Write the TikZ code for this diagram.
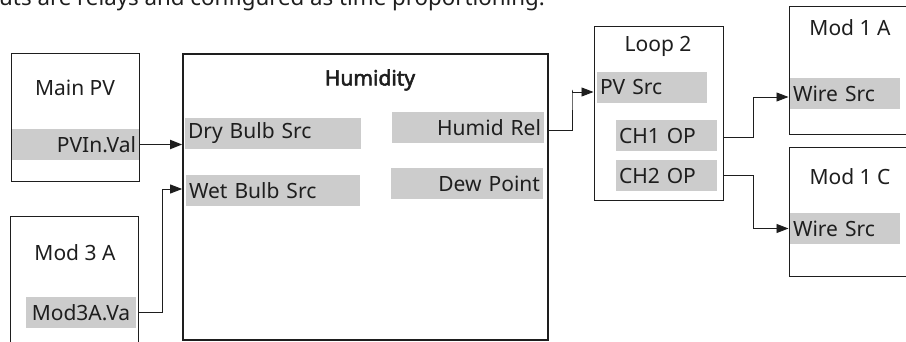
\documentclass[tikz,border=0pt]{standalone}
\usepackage{fontspec}
\setmainfont{Noto Sans}
\newfontfamily\boldfam{Noto Sans}[FakeBold=2.5]
\usetikzlibrary{arrows.meta,calc}
\definecolor{gband}{RGB}{204,204,204}
\definecolor{ink}{RGB}{30,30,30}
\tikzset{
  blk/.style={draw=ink,line width=1pt,inner sep=0pt},
  band/.style={fill=gband,inner xsep=3pt,inner ysep=0pt,minimum height=31pt,text=ink},
  lbl/.style={text=ink,inner sep=0pt},
  conn/.style={draw=ink,line width=0.9pt,-{Triangle[length=12pt,width=9pt]}},
}
\begin{document}
\begin{tikzpicture}[x=1pt,y=-1pt,font=\fontsize{21}{24}\selectfont]
\useasboundingbox (0,0) rectangle (906,342);
\clip (0,0) rectangle (906,342);
% top sentence (cut)
\node[lbl,anchor=base west,font=\fontsize{22.3}{26}\selectfont] (top) at (-1,5.5) {uts are relays and configured as time proportioning.};
% blocks
\node[blk,minimum width=128pt,minimum height=128pt] (mpv) at (75,118) {};
\node[blk,line width=1.7pt,minimum width=365pt,minimum height=286pt] (hum) at (365.5,197) {};
\node[blk,minimum width=128pt,minimum height=130pt] (m3) at (74,282) {};
\node[blk,minimum width=129pt,minimum height=174pt] (loop) at (658.5,114) {};
\node[blk,minimum width=121pt,minimum height=128pt] (m1a) at (849.5,71) {};
\node[blk,minimum width=121pt,minimum height=128pt] (m1c) at (849.5,212) {};
% titles
\node[lbl] (tmpv) at (75,88) {Main PV};
\node[lbl,font=\fontsize{21}{24}\boldfam] (thum) at (370,80) {Humidity};
\node[lbl] (tm3) at (75,253) {Mod 3 A};
\node[lbl] (tloop) at (658,46) {Loop 2};
\node[lbl] (tm1a) at (850,28) {Mod 1 A};
\node[lbl] (tm1c) at (850,177) {Mod 1 C};
% bands
\node[band,minimum width=127pt,text width=121pt,align=right] (pvin) at (75.5,144.5) {PVIn.Val};
\node[band,minimum width=176pt,text width=170pt,align=left] (dry) at (273,133.5) {Dry Bulb Src};
\node[band,minimum width=174pt,text width=168pt,align=left] (wet) at (273,191) {Wet Bulb Src};
\node[band,minimum width=152pt,text width=146pt,align=right] (hrel) at (468,128) {Humid Rel};
\node[band,minimum width=152pt,text width=146pt,align=right] (dew) at (467,183.5) {Dew Point};
\node[band,minimum width=110pt,text width=104pt,align=left] (pvsrc) at (652,87.5) {PV Src};
\node[band,minimum width=101pt,text width=95pt,align=left] (ch1) at (666.5,135.5) {CH1 OP};
\node[band,minimum width=101pt,text width=95pt,align=left] (ch2) at (666.5,175.5) {CH2 OP};
\node[band,minimum width=110pt,text width=104pt,align=left] (w1) at (845,94) {Wire Src};
\node[band,minimum width=110pt,text width=104pt,align=left] (w2) at (845,228.5) {Wire Src};
\node[band,minimum width=110pt,text width=104pt,align=center] (m3v) at (81,312.5) {Mod3A.Va};
% connectors
\draw[conn,line width=1.8pt] (pvin.east) -- (pvin.east -| hum.west);
\coordinate (wy) at ($(wet.west)+(0,-2)$);
\draw[conn] (m3v.east -| m3.east) -- (162,312.5) |- (wy -| hum.west);
\coordinate (py) at ($(pvsrc.west)+(0,4.5)$);
\draw[conn] ($(hrel.east -| hum.east)+(0,2)$) -| (572,90) |- (py -| loop.west);
\draw[conn] ($(ch1.east -| loop.east)+(0,1.5)$) -| (753,97) -- (753,97 -| m1a.west);
\draw[conn] (ch2.east -| loop.east) -| (753,228.5) -- (w2.west -| m1c.west);
\end{tikzpicture}
\end{document}
